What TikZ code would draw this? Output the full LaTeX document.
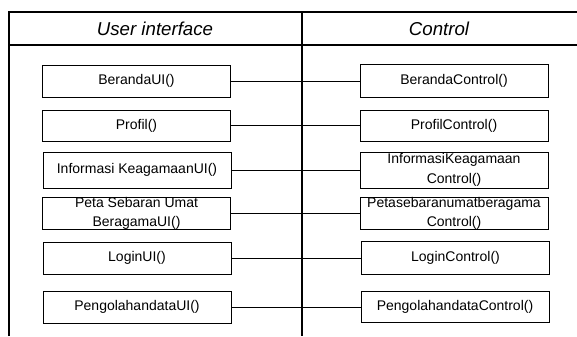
\documentclass[tikz,border=0pt]{standalone}
\usepackage{fontspec}
\setmainfont{Liberation Sans}
\begin{document}
\begin{tikzpicture}
[x=0.75pt,y=-0.75pt,
 kelas/.style={draw,line width=0.75pt,minimum width=141pt,minimum height=24pt,
   inner sep=0pt,align=center,font=\fontsize{10.5}{15}\selectfont},
 judul/.style={font=\itshape\fontsize{14}{16}\selectfont}]
\useasboundingbox (0,0) rectangle (577,336);

% kerangka
\draw[line width=0.8pt] (9,336) -- (9,12) -- (577,12);
\draw[line width=1.1pt] (9,45) -- (577,45);
\draw[line width=1.5pt] (301.5,11) -- (301.5,336);

\node[judul] (hUI) at (155,28.5) {User interface};
\node[judul] (hCt) at (439,28.5) {Control};

% user interface
\node[kelas] (uiBeranda) at (136.5,81) {BerandaUI()};
\node[kelas,minimum height=23.25pt] (uiProfil) at (136.5,125.5) {Profil()};
\node[kelas,minimum height=27pt] (uiInfo) at (137,170) {Informasi KeagamaanUI()};
\node[kelas,minimum height=23.25pt,font=\fontsize{10.5}{14}\selectfont] (uiPeta) at (136.5,213.5) {Peta Sebaran Umat\\BeragamaUI()};
\node[kelas] (uiLogin) at (137,258) {LoginUI()};
\node[kelas] (uiOlah) at (137,307) {PengolahandataUI()};

% control
\node[kelas,minimum height=24.75pt] (ctBeranda) at (454,80.5) {BerandaControl()};
\node[kelas,minimum height=23.25pt] (ctProfil) at (454,125.5) {ProfilControl()};
\node[kelas,minimum height=27pt] (ctInfo) at (454,170) {InformasiKeagamaan\\Control()};
\node[kelas,minimum height=23.25pt,font=\fontsize{10.5}{14}\selectfont] (ctPeta) at (454,213.5) {Petasebaranumatberagama\\Control()};
\node[kelas,minimum height=24.75pt] (ctLogin) at (455.5,257.5) {LoginControl()};
\node[kelas,minimum height=23.25pt] (ctOlah) at (455,306.5) {PengolahandataControl()};

\foreach \n in {Beranda,Profil,Info,Peta,Login,Olah}
  \draw[line width=0.75pt] (ui\n.east) -- (ui\n.east -| ct\n.west);
\end{tikzpicture}
\end{document}
